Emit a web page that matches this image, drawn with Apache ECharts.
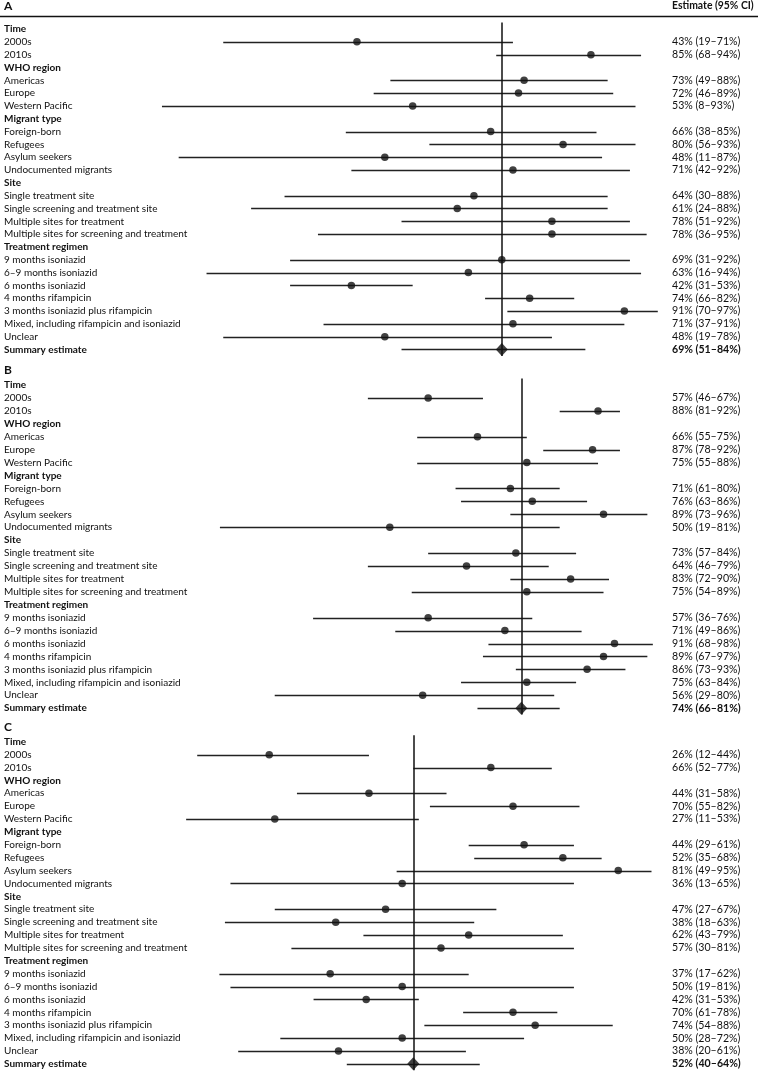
<!DOCTYPE html>
<html>
<head>
<meta charset="utf-8">
<script src="https://cdn.jsdelivr.net/npm/echarts@6/dist/echarts.min.js"></script>
<style>
html,body{margin:0;padding:0;background:#fff;}
#chart{width:758px;height:1071px;}
</style>
</head>
<body>
<div id="chart"></div>
<script>
// ---------- DATA ----------
const rows = ['Time','2000s','2010s','WHO region','Americas','Europe','Western Pacific','Migrant type','Foreign-born','Refugees','Asylum seekers','Undocumented migrants','Site','Single treatment site','Single screening and treatment site','Multiple sites for treatment','Multiple sites for screening and treatment','Treatment regimen','9 months isoniazid','6–9 months isoniazid','6 months isoniazid','4 months rifampicin','3 months isoniazid plus rifampicin','Mixed, including rifampicin and isoniazid','Unclear','Summary estimate'];
const headerRows = ['Time','WHO region','Migrant type','Site','Treatment regimen','Summary estimate'];
const panelLetters = ['A','B','C'];
const estHeader = 'Estimate (95% CI)';

// Panel A (drawn point estimates and 95% CI, %; null = header row)
const estA  = [null,43,85,null,73,72,53,null,67,80,48,71,null,64,61,78,78,null,69,63,42,74,91,71,48,69];
const lowA  = [null,19,68,null,49,46,8,null,41,56,11,42,null,30,24,51,36,null,31,16,31,66,70,37,19,51];
const highA = [null,71,94,null,88,89,93,null,86,93,87,92,null,88,88,92,95,null,92,94,53,82,97,91,78,84];
const textA = ['','43% (19–71%)','85% (68–94%)','','73% (49–88%)','72% (46–89%)','53% (8–93%)','','66% (38–85%)','80% (56–93%)','48% (11–87%)','71% (42–92%)','','64% (30–88%)','61% (24–88%)','78% (51–92%)','78% (36–95%)','','69% (31–92%)','63% (16–94%)','42% (31–53%)','74% (66–82%)','91% (70–97%)','71% (37–91%)','48% (19–78%)','69% (51–84%)'];

// Panel B
const estB  = [null,57,88,null,66,87,75,null,72,76,89,50,null,73,64,83,75,null,57,71,91,89,86,75,56,74];
const lowB  = [null,46,81,null,55,78,55,null,62,63,72,19,null,57,46,72,54,null,36,51,68,67,73,63,29,66];
const highB = [null,67,92,null,75,92,88,null,81,86,97,81,null,84,79,90,89,null,76,85,98,97,93,84,80,81];
const textB = ['','57% (46–67%)','88% (81–92%)','','66% (55–75%)','87% (78–92%)','75% (55–88%)','','71% (61–80%)','76% (63–86%)','89% (73–96%)','50% (19–81%)','','73% (57–84%)','64% (46–79%)','83% (72–90%)','75% (54–89%)','','57% (36–76%)','71% (49–86%)','91% (68–98%)','89% (67–97%)','86% (73–93%)','75% (63–84%)','56% (29–80%)','74% (66–81%)'];

// Panel C
const estC  = [null,26,66,null,44,70,27,null,72,79,89,50,null,47,38,62,57,null,37,50,43.5,70,74,50,38.5,52];
const lowC  = [null,13,52,null,31,55,11,null,62,63,49,19,null,27,18,43,30,null,17,19,34,61,54,28,20.4,40];
const highC = [null,44,77,null,58,82,53,null,81,86,95,81,null,67,63,79,81,null,62,81,53,78,88,72,61.5,64];
const textC = ['','26% (12–44%)','66% (52–77%)','','44% (31–58%)','70% (55–82%)','27% (11–53%)','','44% (29–61%)','52% (35–68%)','81% (49–95%)','36% (13–65%)','','47% (27–67%)','38% (18–63%)','62% (43–79%)','57% (30–81%)','','37% (17–62%)','50% (19–81%)','42% (31–53%)','70% (61–78%)','74% (54–88%)','50% (28–72%)','38% (20–61%)','52% (40–64%)'];

// ---------- LAYOUT ----------
const FONT = 'Lato';
const INK = '#111';
const panels = [
  {est: estA, low: lowA, high: highA, text: textA, left: 117.4, right: 83.5, top: 22.6, height: 333.3},
  {est: estB, low: lowB, high: highB, text: textB, left: 115.8, right: 94.2, top: 378.6, height: 336.0},
  {est: estC, low: lowC, high: highC, text: textC, left: 125.2, right: 78.8, top: 735.3, height: 335.0}
];
const letterTops = [0, 364, 721];

const grids = [], xAxes = [], yAxes = [], series = [];
const summaryIdx = rows.length - 1;

panels.forEach((p, gi) => {
  grids.push({left: p.left, right: p.right, top: p.top, height: p.height, containLabel: false});
  xAxes.push({type: 'value', gridIndex: gi, min: 0, max: 100, show: false});
  const labelMarginLeft = p.left - 4;
  const gridRightX = 758 - p.right;
  yAxes.push({
    type: 'category', gridIndex: gi, data: rows, inverse: true, position: 'left',
    axisLine: {show: false}, axisTick: {show: false}, splitLine: {show: false},
    axisLabel: {
      align: 'left', margin: labelMarginLeft, interval: 0,
      fontFamily: FONT, fontSize: 10, color: INK,
      formatter: (v) => headerRows.includes(v) ? '{b|' + v + '}' : v,
      rich: {b: {fontFamily: FONT, fontSize: 10, fontWeight: 'bold', color: INK}}
    }
  });
  yAxes.push({
    type: 'category', gridIndex: gi, data: rows, inverse: true, position: 'right',
    axisLine: {show: false}, axisTick: {show: false}, splitLine: {show: false},
    axisLabel: {
      align: 'left', margin: 672 - gridRightX, interval: 0,
      fontFamily: FONT, fontSize: 10.6, color: INK,
      formatter: (v, i) => i === summaryIdx ? '{b|' + p.text[i] + '}' : p.text[i],
      rich: {b: {fontFamily: FONT, fontSize: 10.6, fontWeight: 'bold', color: INK}}
    }
  });
  const leftY = gi * 2;
  // CI lines
  const ciData = [];
  p.est.forEach((e, i) => { if (e !== null) ciData.push([p.low[i], p.high[i], i]); });
  series.push({
    type: 'custom', xAxisIndex: gi, yAxisIndex: leftY, silent: true,
    renderItem: (params, api) => {
      const a = api.coord([api.value(0), api.value(2)]);
      const b = api.coord([api.value(1), api.value(2)]);
      return {type: 'line', shape: {x1: a[0], y1: Math.round(a[1]) + 0.5, x2: b[0], y2: Math.round(b[1]) + 0.5},
              style: {stroke: '#222', lineWidth: 1.3}};
    },
    encode: {x: [0, 1], y: 2},
    data: ciData, z: 2
  });
  // point estimates
  const ptData = [];
  p.est.forEach((e, i) => { if (e !== null && i !== summaryIdx) ptData.push([e, i]); });
  series.push({
    type: 'scatter', xAxisIndex: gi, yAxisIndex: leftY, silent: true,
    symbol: 'circle', symbolSize: 7.5, itemStyle: {color: '#111'},
    data: ptData, z: 4,
    markLine: {
      silent: true, symbol: 'none', label: {show: false},
      lineStyle: {color: '#111', width: 1.5, type: 'solid'},
      data: [{xAxis: p.est[summaryIdx]}]
    }
  });
  // summary diamond
  series.push({
    type: 'scatter', xAxisIndex: gi, yAxisIndex: leftY, silent: true,
    symbol: 'diamond', symbolSize: [12, 13], itemStyle: {color: '#111'},
    data: [[p.est[summaryIdx], summaryIdx]], z: 5
  });
});

const titles = panelLetters.map((L, i) => ({
  text: L, left: 4, top: letterTops[i], padding: 0,
  textStyle: {fontFamily: FONT, fontSize: 12, fontWeight: 'bold', color: INK}
}));
titles.push({
  text: estHeader, left: 672, top: 1, padding: 0,
  textStyle: {fontFamily: FONT, fontSize: 10.4, fontWeight: 'bold', color: INK}
});

const option = {
  animation: false,
  backgroundColor: '#fff',
  title: titles,
  grid: grids,
  xAxis: xAxes,
  yAxis: yAxes,
  series: series,
  graphic: [{type: 'line', shape: {x1: 0, y1: 16.5, x2: 758, y2: 16.5}, style: {stroke: '#111', lineWidth: 1.3}}]
};

const chart = echarts.init(document.getElementById('chart'), null, {renderer: 'canvas'});
chart.setOption(option);
</script>
</body>
</html>
